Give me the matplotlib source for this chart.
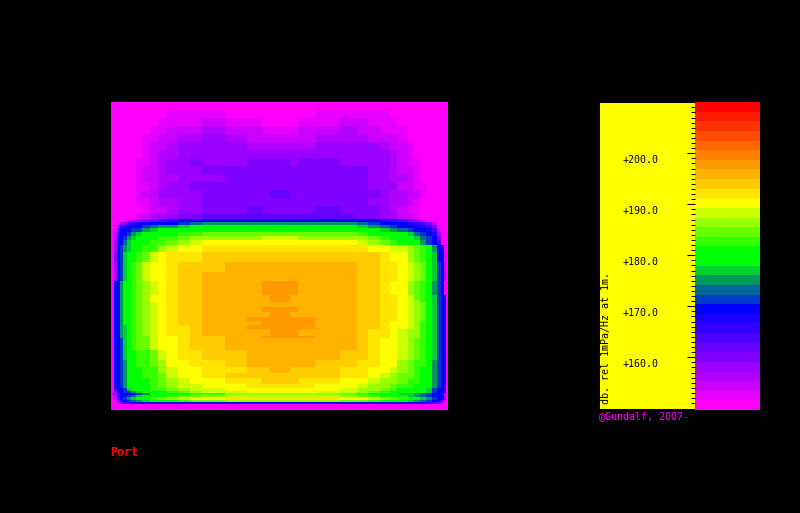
import numpy as np
import matplotlib
matplotlib.use("Agg")
import matplotlib.pyplot as plt
from matplotlib.colors import ListedColormap, BoundaryNorm

W, H = 800, 513

# cell edges of the source grid (image sampling of the map)
col_edges = [111,114,117,120,123,127,131,136,142,150,158,166,178,190,202,225,247,262,270,290,298,315,
             340,357,368,380,390,397,408,414,420,426,432,437,441,444,446,448]
row_edges = [102,110,118,126,134,142,150,158,166,174,182,190,198,206,214,219,222,225,228,232,236,240,245,
             252,262,272,281,295,300,302,307,312,317,321,325,329,336,338,350,360,367,373,378,384,388,391,
             393,395,397,400,402,404,410]

# source level, dB re 1 uPa/Hz at 1 m
levels_db = [
[151,151,151,151,151,151,151,151,151,151,151,151,151,151,151,151,151,151,151,151,151,151,151,151,151,151,151,151,151,151,151,151,151,151,151,151,151],
[151,151,151,151,151,151,151,151,151,151,151,153,153,153,153,151,151,151,151,151,151,153,153,153,153,153,151,151,151,151,151,151,151,151,151,151,151],
[151,151,151,151,151,151,151,151,151,151,153,153,153,153,155,153,153,151,151,151,153,153,155,155,153,153,153,151,151,151,151,151,151,151,151,151,151],
[151,151,151,151,151,151,151,151,151,153,153,155,155,155,157,155,155,153,153,153,155,155,157,155,155,153,153,153,151,151,151,151,151,151,151,151,151],
[151,151,151,151,151,151,151,151,153,153,155,155,157,157,158,157,155,155,155,155,155,157,157,157,155,155,155,153,151,151,151,151,151,151,151,151,151],
[151,151,151,151,151,151,151,151,153,155,155,157,158,158,158,158,157,157,157,157,157,158,158,158,158,157,155,155,153,151,151,151,151,151,151,151,151],
[151,151,151,151,151,151,151,151,153,155,157,157,158,158,158,158,158,158,158,158,158,158,158,158,158,158,157,155,153,151,151,151,151,151,151,151,151],
[151,151,151,151,151,151,151,153,153,155,157,158,158,160,158,158,160,160,160,158,160,160,158,158,158,158,157,155,153,153,151,151,151,151,151,151,151],
[151,151,151,151,151,151,151,153,155,155,157,158,158,158,160,160,160,160,160,160,160,160,160,160,158,158,157,155,155,153,151,151,151,151,151,151,151],
[151,151,151,151,151,151,151,153,155,155,157,157,158,158,158,160,160,160,160,160,160,160,160,160,158,158,157,157,155,153,151,151,151,151,151,151,151],
[151,151,151,151,151,151,151,153,153,155,157,158,158,160,160,160,160,160,160,160,160,160,160,160,158,158,158,155,155,153,153,151,151,151,151,151,151],
[151,151,151,151,151,151,151,153,155,155,158,158,158,158,160,160,160,160,162,160,160,160,160,160,160,158,157,157,155,155,153,151,151,151,151,151,151],
[151,151,151,151,151,151,151,153,153,155,157,157,158,158,160,160,160,160,160,160,160,160,160,160,158,158,157,157,155,153,151,151,151,151,151,151,151],
[151,151,151,151,151,151,151,151,153,155,155,157,158,158,160,160,162,160,160,160,160,162,160,160,160,158,157,155,153,153,151,151,151,151,151,151,151],
[151,151,151,151,151,151,151,153,155,157,158,158,160,160,162,162,162,162,162,162,162,162,162,160,160,158,158,155,155,153,151,151,151,151,151,151,151],
[151,151,151,151,153,155,157,158,160,162,164,166,168,168,170,170,170,170,170,170,170,170,170,170,168,168,166,164,160,158,155,153,151,151,151,151,151],
[151,151,153,157,160,164,166,168,170,170,170,170,172,174,175,175,175,175,175,175,175,175,175,174,172,170,170,170,168,166,164,160,155,151,151,151,151],
[151,153,160,166,168,170,170,170,172,174,175,175,177,179,179,179,179,179,179,179,179,179,179,177,175,174,172,170,170,170,168,166,160,151,151,151,151],
[151,153,164,168,170,170,172,172,175,177,179,179,181,181,181,181,181,181,181,181,181,181,181,181,179,177,175,174,172,170,170,168,164,153,151,151,151],
[151,155,168,170,170,172,175,177,179,179,181,181,183,183,185,185,185,185,185,185,185,185,185,183,181,181,179,179,177,174,172,170,168,157,151,151,151],
[151,155,170,170,172,175,177,179,181,181,183,183,185,187,187,187,187,188,188,188,187,187,187,187,185,183,181,181,179,177,174,172,170,160,151,151,151],
[151,157,170,170,174,177,179,181,181,183,183,185,187,188,190,190,190,190,190,190,190,190,190,188,187,185,183,181,181,179,175,172,170,164,151,151,151],
[151,157,170,172,175,177,179,181,183,183,187,188,190,190,192,192,192,192,192,192,192,192,192,192,190,190,188,188,187,185,183,181,175,170,170,153,151],
[151,160,170,172,177,181,181,183,185,188,190,192,192,192,194,194,194,194,194,194,194,194,194,194,194,192,190,190,187,185,183,181,177,170,170,153,151],
[151,157,170,172,177,181,183,185,188,190,190,192,194,194,194,196,196,196,196,196,196,196,196,194,194,192,192,190,188,187,185,181,177,172,170,155,151],
[151,157,170,172,177,181,183,185,188,190,190,192,194,194,196,196,196,196,196,196,196,196,196,194,194,192,192,190,188,187,185,181,177,172,170,157,151],
[151,170,170,175,179,181,183,185,187,188,190,192,194,194,196,196,196,198,198,198,196,196,196,194,194,192,190,190,187,185,183,179,175,172,170,151,151],
[151,170,170,175,179,181,183,185,187,190,190,192,194,194,196,196,196,196,198,196,196,196,196,194,194,192,192,190,188,185,183,179,177,172,170,170,151],
[151,170,170,175,179,181,183,185,187,190,190,192,194,194,196,196,196,196,198,196,196,196,196,194,194,192,192,190,188,187,183,181,177,172,170,170,151],
[151,170,170,175,179,181,183,185,187,188,190,192,194,194,196,196,196,196,196,196,196,196,196,194,194,192,192,190,188,187,185,181,177,172,170,170,151],
[151,170,170,175,179,181,183,185,187,188,190,192,194,194,196,196,196,198,198,198,196,196,196,194,194,192,192,190,188,187,185,181,177,172,170,170,151],
[151,170,170,175,179,181,183,185,187,188,190,192,194,194,196,196,196,196,198,196,196,196,196,194,194,192,192,190,188,187,185,181,177,172,170,170,151],
[151,170,170,175,179,181,183,185,187,188,190,192,194,194,196,196,198,198,198,198,198,196,196,194,194,192,192,190,188,187,185,181,177,172,170,170,151],
[151,170,170,175,179,181,183,185,187,188,190,192,194,194,196,196,196,198,198,198,198,196,196,194,194,192,190,190,188,187,183,181,177,172,170,170,151],
[151,170,170,175,177,181,183,185,187,188,190,192,192,194,196,196,198,198,198,198,198,196,196,194,194,192,190,190,188,187,183,181,177,172,170,170,151],
[151,170,170,175,177,181,183,185,187,188,190,192,192,194,196,196,196,196,198,198,196,196,196,194,192,192,190,188,187,187,183,181,177,172,170,170,151],
[151,170,170,175,177,181,183,185,185,188,190,190,192,194,194,196,196,198,198,198,198,196,196,194,192,192,190,188,187,187,183,181,177,172,170,170,151],
[151,170,170,172,177,181,183,185,185,188,190,190,192,194,194,196,196,196,196,196,196,196,196,194,192,190,190,188,187,185,183,179,177,172,170,170,151],
[151,170,170,172,177,179,181,183,183,185,188,190,192,192,194,194,196,196,196,196,196,196,194,194,192,190,190,188,187,185,183,181,177,172,170,170,151],
[151,170,170,172,175,179,181,183,183,185,187,190,190,192,192,194,196,196,196,196,196,194,194,192,192,190,190,187,185,183,183,179,175,172,170,170,151],
[151,170,170,172,175,179,181,181,183,183,187,188,190,190,192,192,194,194,196,194,194,194,192,192,190,190,188,187,185,183,181,179,175,172,170,170,151],
[151,170,170,172,175,179,181,181,183,183,185,188,190,190,192,194,194,194,194,194,194,194,192,192,190,188,187,185,185,183,181,179,175,172,170,170,151],
[151,170,170,172,175,179,179,181,181,183,185,187,188,190,190,192,192,194,194,194,192,192,190,190,188,187,187,185,183,183,181,179,175,172,170,170,151],
[151,168,170,172,175,179,179,181,181,183,185,187,188,188,190,190,192,192,192,192,192,190,190,188,187,187,185,183,183,181,181,179,175,172,170,168,151],
[151,164,170,170,172,177,179,179,181,183,183,185,187,188,188,190,190,190,190,190,190,190,188,187,187,185,183,181,181,179,179,177,172,170,170,168,151],
[151,160,170,170,172,172,175,177,179,181,181,183,185,187,188,188,190,190,190,190,190,188,188,187,185,183,181,181,181,179,179,177,172,170,170,168,151],
[157,157,164,168,170,170,170,172,175,179,179,181,181,183,183,187,187,187,187,187,187,187,185,183,181,181,179,177,177,175,174,172,170,170,166,157,151],
[151,157,166,170,170,172,174,177,179,181,181,183,185,185,187,188,188,188,188,188,188,188,187,185,183,181,181,179,177,175,174,172,170,170,170,157,151],
[151,155,168,170,172,175,177,179,181,183,185,187,188,190,190,192,192,192,192,192,192,192,190,190,188,187,185,183,181,179,177,175,172,170,170,160,151],
[151,153,160,168,170,172,174,175,177,179,179,181,183,185,185,187,187,187,187,187,187,187,185,185,183,181,179,179,177,175,174,172,170,168,160,153,151],
[151,151,155,160,164,166,168,168,170,170,170,170,170,170,170,170,170,170,170,170,170,170,170,170,170,170,170,170,170,168,168,166,164,160,155,151,151],
[151,151,151,151,151,151,151,151,151,151,151,151,151,151,151,151,151,151,151,151,151,151,151,151,151,151,151,151,151,151,151,151,151,151,151,151,151],
]

band_colors = ["#ff00ff","#e500ff","#cc00ff","#b200ff","#9900ff","#7f00ff","#6600ff","#4c00ff","#3300ff","#1a00ff","#0000ff",
               "#0038c8","#006898","#009860","#00d030","#00ff00","#00ff00","#33ff00","#66ff00","#99ff00","#ccff00","#ffff00",
               "#ffe500","#ffcc00","#ffb200","#ff9900","#ff7f00","#ff6600","#ff4c00","#ff3300","#ff1a00","#ff0000"]
scale_min, scale_max = 150.0, 210.0
major_ticks = [160, 170, 180, 190, 200]
major_labels = ["+160.0", "+170.0", "+180.0", "+190.0", "+200.0"]
minor_ticks = [151,152,153,154,155,156,157,158,159,161,162,163,164,165,166,167,168,169,171,172,173,174,175,176,177,178,179,
               181,182,183,184,185,186,187,188,189,191,192,193,194,195,196,197,198,199,201,202,203,204,205,206,207,208,209]

bounds = np.linspace(scale_min, scale_max, len(band_colors) + 1)
cmap = ListedColormap(band_colors)
norm = BoundaryNorm(bounds, cmap.N)
MONO = "DejaVu Sans Mono"


def add_axes_px(left, top, right, bottom):
    return fig.add_axes([left / W, 1 - bottom / H, (right - left) / W, (bottom - top) / H])


fig = plt.figure(figsize=(W / 100, H / 100), dpi=100, facecolor="black")

# main map
ax = add_axes_px(111, 102, 448, 410)
ax.pcolormesh(col_edges, row_edges, np.array(levels_db, dtype=float), cmap=cmap, norm=norm,
              shading="flat", antialiased=False, linewidth=0)
ax.set_xlim(111, 448)
ax.set_ylim(410, 102)
ax.set_axis_off()

# colour bar swatches
cax = add_axes_px(695, 102, 760, 410)
mids = (bounds[:-1] + bounds[1:]) / 2
cax.pcolormesh([0, 1], bounds, mids[:, None], cmap=cmap, norm=norm, shading="flat",
               antialiased=False, linewidth=0)
cax.set_xlim(0, 1)
cax.set_ylim(scale_min, scale_max)
cax.set_axis_off()

# yellow scale panel
sax = add_axes_px(600, 103, 695, 409)
sax.set_facecolor("#ffff00")
sax.set_ylim(149.86, 209.86)
sax.set_xlim(0, 95)
for s in sax.spines.values():
    s.set_visible(False)
sax.set_xticks([])
sax.yaxis.tick_right()
sax.set_yticks(major_ticks)
sax.set_yticks(minor_ticks, minor=True)
sax.set_yticklabels([])
sax.tick_params(axis="y", which="major", direction="in", length=5.76, width=0.72, color="black")
sax.tick_params(axis="y", which="minor", direction="in", length=2.9, width=0.72, color="black")
for t, lab in zip(major_ticks, major_labels):
    sax.annotate(lab, xy=(23, t), xycoords="data", xytext=(0, -1.4), textcoords="offset points",
                 family=MONO, fontsize=7.2, color="black", ha="left", va="top")
sax.text(6.2, 150.9, "db. rel 1mPa/Hz at 1m.", rotation=90, family=MONO, fontsize=7.2,
         color="black", ha="center", va="bottom")

fig.text(599 / W, 1 - 416 / H, "@Gundalf, 2007-", family=MONO, fontsize=7.2, color="#ff00ff",
         ha="left", va="center")
fig.text(110 / W, 1 - 453 / H, "Port", family=MONO, fontsize=8.4, fontweight="bold", color="#ff0000",
         ha="left", va="center")

fig.savefig("out.png", dpi=100, facecolor="black")
